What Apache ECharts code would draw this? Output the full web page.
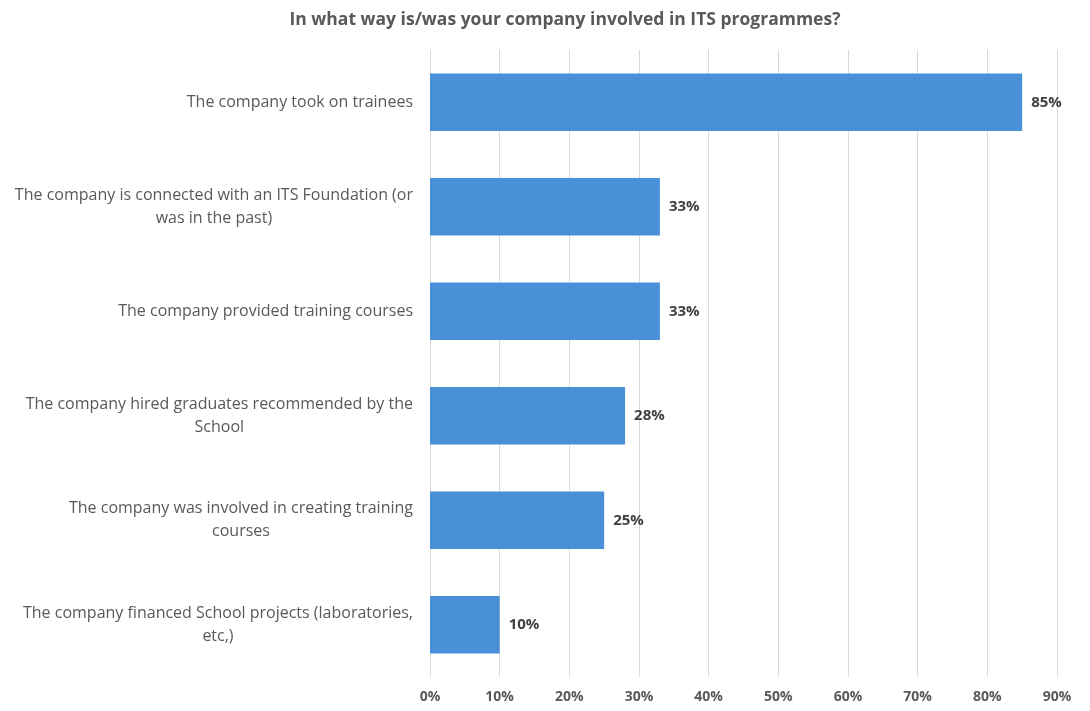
<!DOCTYPE html>
<html>
<head>
<meta charset="utf-8">
<script src="https://cdn.jsdelivr.net/npm/echarts@6/dist/echarts.min.js"></script>
<style>
  html, body { margin: 0; padding: 0; background: #ffffff; }
  #chart { width: 1090px; height: 711px; }
</style>
</head>
<body>
<div id="chart"></div>
<script>
// Survey answers, top to bottom; "\n" marks the wrap point of long answers
const categories = [
  "The company took on trainees",
  "The company is connected with an ITS Foundation (or\nwas in the past)",
  "The company provided training courses",
  "The company hired graduates recommended by the\nSchool",
  "The company was involved in creating training\ncourses",
  "The company financed School projects (laboratories,\netc,)"
];
// Share of respondents, percent
const shares = [85, 33, 33, 28, 25, 10];
// Horizontal axis range and step, percent
const axisMin = 0;
const axisMax = 90;
const axisStep = 10;

const chart = echarts.init(document.getElementById('chart'), null, { renderer: 'canvas' });
const FONT = '"Open Sans", "Noto Sans", sans-serif';

chart.setOption({
  backgroundColor: '#ffffff',
  animation: false,
  title: {
    text: 'In what way is/was your company involved in ITS programmes?',
    left: 560,
    textAlign: 'center',
    top: 6,
    textStyle: { fontFamily: FONT, fontSize: 17.5, fontWeight: 'bold', color: '#595959' }
  },
  grid: { left: 430, right: 33, top: 50, bottom: 34, containLabel: false },
  xAxis: {
    type: 'value',
    min: axisMin,
    max: axisMax,
    interval: axisStep,
    axisLine: { show: false },
    axisTick: { show: false },
    splitLine: { show: true, lineStyle: { color: '#d9d9d9', width: 1 } },
    axisLabel: {
      margin: 13,
      fontFamily: FONT,
      fontSize: 14,
      fontWeight: 'bold',
      color: '#595959',
      formatter: v => v + '%'
    }
  },
  yAxis: {
    type: 'category',
    inverse: true,
    data: categories,
    axisLine: { show: false },
    axisTick: { show: false },
    splitLine: { show: false },
    axisLabel: {
      margin: 17,
      align: 'right',
      fontFamily: FONT,
      fontSize: 16,
      color: '#595959',
      lineHeight: 23,
      formatter: v => v.split('\n').map(line => '{c|' + line + '}').join('\n'),
      rich: {
        c: { align: 'center', fontFamily: FONT, fontSize: 16, color: '#595959', lineHeight: 23 }
      }
    }
  },
  series: [{
    type: 'bar',
    data: shares,
    barCategoryGap: '45%',
    itemStyle: { color: '#4a90d9' },
    label: {
      show: true,
      position: 'right',
      distance: 9,
      fontFamily: FONT,
      fontSize: 15,
      fontWeight: 'bold',
      color: '#404040',
      formatter: p => p.value + '%'
    }
  }]
});
</script>
</body>
</html>
